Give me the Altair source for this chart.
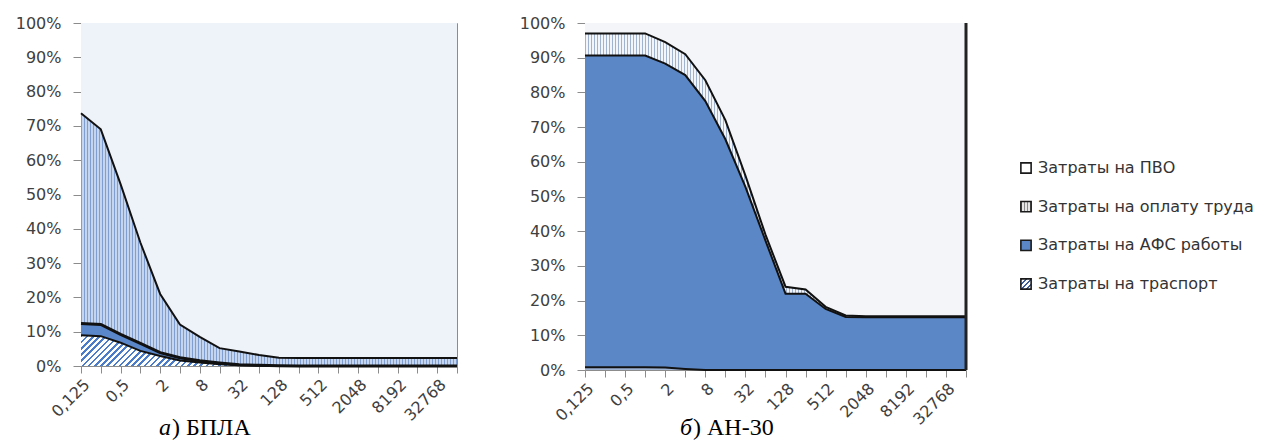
import altair as alt
import pandas as pd

# ---------------- data ----------------
categories = ["0,125", "0,25", "0,5", "1", "2", "4", "8", "16", "32", "64", "128",
              "256", "512", "1024", "2048", "4096", "8192", "16384", "32768", "65536"]

legend_names = ["Затраты на ПВО", "Затраты на оплату труда",
                "Затраты на АФС работы", "Затраты на траспорт"]
stack_order = ["Затраты на траспорт", "Затраты на АФС работы",
               "Затраты на оплату труда", "Затраты на ПВО"]

# panel а) БПЛА – shares, %
bpla_transport = [9.0, 8.7, 6.8, 4.4, 2.9, 1.6, 1.0, 0.5, 0.2, 0.1, 0, 0, 0, 0, 0, 0, 0, 0, 0, 0]
bpla_afs = [3.4, 3.4, 2.4, 2.2, 1.0, 0.8, 0.5, 0.4, 0.2, 0.1, 0.1, 0, 0, 0, 0, 0, 0, 0, 0, 0]
bpla_pay = [61.3, 56.9, 43.8, 29.4, 17.1, 9.7, 7.0, 4.3, 3.8, 3.0, 2.3, 2.3, 2.3, 2.3, 2.3,
            2.3, 2.3, 2.3, 2.3, 2.3]
bpla_pvo = [26.3, 31.0, 47.0, 64.0, 79.0, 87.9, 91.5, 94.8, 95.8, 96.8, 97.6, 97.7, 97.7,
            97.7, 97.7, 97.7, 97.7, 97.7, 97.7, 97.7]

# panel б) АН-30 – shares, %
an_transport = [0.8, 0.8, 0.8, 0.8, 0.7, 0.3, 0, 0, 0, 0, 0, 0, 0, 0, 0, 0, 0, 0, 0, 0]
an_afs = [89.8, 89.8, 89.8, 89.8, 87.6, 84.7, 77.5, 66.5, 52.8, 37.3, 22.0, 22.0, 17.6,
          15.3, 15.2, 15.2, 15.2, 15.2, 15.2, 15.2]
an_pay = [6.4, 6.4, 6.4, 6.4, 6.2, 6.0, 6.0, 5.5, 3.2, 1.7, 2.0, 1.2, 0.6, 0.4, 0.3, 0.3,
          0.3, 0.3, 0.3, 0.3]
an_pvo = [3.0, 3.0, 3.0, 3.0, 5.5, 9.0, 16.5, 28.0, 44.0, 61.0, 76.0, 76.8, 81.8, 84.3,
          84.5, 84.5, 84.5, 84.5, 84.5, 84.5]

captions = [("а", ") БПЛА"), ("б", ") АН-30")]
y_ticks = [0, 10, 20, 30, 40, 50, 60, 70, 80, 90, 100]

# ---------------- helpers ----------------
LABEL_FONT = "DejaVu Sans"
AXIS_GREY = "#8c8c8c"


def build_df(series):
    rows = []
    for i, cat in enumerate(categories):
        lo = 0.0
        for s in stack_order:
            v = series[s][i]
            rows.append({"cat": cat, "series": s, "lo": lo, "hi": lo + v})
            lo += v
    return pd.DataFrame(rows)


def stripe_stops(span_px, period, line_px, c_line, c_bg):
    stops = []
    x = 0.0
    while x < span_px:
        a = round(x / span_px, 6)
        b = round(min((x + line_px) / span_px, 1.0), 6)
        c = round(min((x + period) / span_px, 1.0), 6)
        stops += [{"offset": a, "color": c_line}, {"offset": b, "color": c_line},
                  {"offset": b, "color": c_bg}, {"offset": c, "color": c_bg}]
        x += period
    return stops


def vstripes(w, period, line_px, c_line, c_bg):
    return {"gradient": "linear", "x1": 0, "y1": 0, "x2": 1, "y2": 0,
            "stops": stripe_stops(w, period, line_px, c_line, c_bg)}


def hatch(w, h, period, line_px, c_line, c_bg):
    b = h / w
    span = w * (1 + b * b)
    return {"gradient": "linear", "x1": 0, "y1": 0, "x2": 1, "y2": round(b, 6),
            "stops": stripe_stops(span, period, line_px, c_line, c_bg)}


def x_enc():
    arr = "[" + ",".join("'" + c + "'" for c in categories) + "]"
    return alt.X("cat:O", sort=categories,
                 scale=alt.Scale(type="point", padding=0, domain=categories),
                 axis=alt.Axis(title=None, labelAngle=-45, labelAlign="right",
                               labelBaseline="top", labelOverlap=False,
                               labelExpr=f"indexof({arr}, datum.value) % 2 == 0 ? datum.value : ''",
                               labelFont=LABEL_FONT, labelFontSize=16, labelColor="#404040",
                               labelPadding=3, tickSize=7, tickColor=AXIS_GREY,
                               domainColor=AXIS_GREY, grid=False))


def y_enc(field):
    return alt.Y(f"{field}:Q", scale=alt.Scale(domain=[0, 100], nice=False),
                 axis=alt.Axis(title=None, values=y_ticks, labelExpr="datum.value + '%'",
                               labelFont=LABEL_FONT, labelFontSize=16, labelColor="#404040",
                               labelPadding=12, tickSize=8, tickColor=AXIS_GREY,
                               domainColor=AXIS_GREY, grid=False))


def panel(series, fills, line_widths, caption, cap_x, cap_y, right_rule):
    df = build_df(series)
    layers = []
    for s in stack_order:
        layers.append(
            alt.Chart(df).transform_filter(alt.datum.series == s)
            .mark_area(fill=fills[s], interpolate="linear", strokeWidth=0)
            .encode(x=x_enc(), y=y_enc("lo"), y2="hi:Q")
        )
    for s in stack_order[:3]:
        layers.append(
            alt.Chart(df).transform_filter(alt.datum.series == s)
            .mark_line(color="#111111", strokeWidth=line_widths[s], interpolate="linear")
            .encode(x=x_enc(), y=y_enc("hi"))
        )
    if right_rule:
        edge = pd.DataFrame({"cat": [categories[-1]], "lo": [0], "hi": [100]})
        layers.append(alt.Chart(edge).mark_rule(color="#222222", strokeWidth=3)
                      .encode(x=x_enc(), y=y_enc("lo"), y2="hi:Q"))
    cap_df = pd.DataFrame({"a": [caption[0]], "b": [caption[1]]})
    layers.append(alt.Chart(cap_df).mark_text(font="Liberation Serif", fontSize=24,
                                             fontStyle="italic", align="right",
                                             baseline="alphabetic", color="#000000")
                  .encode(text="a:N", x=alt.value(cap_x), y=alt.value(cap_y)))
    layers.append(alt.Chart(cap_df).mark_text(font="Liberation Serif", fontSize=24,
                                             align="left", baseline="alphabetic",
                                             color="#000000")
                  .encode(text="b:N", x=alt.value(cap_x + 1), y=alt.value(cap_y)))
    return layers


# ---------------- panel a ----------------
WL, HL = 376, 343
bpla_series = {"Затраты на траспорт": bpla_transport, "Затраты на АФС работы": bpla_afs,
               "Затраты на оплату труда": bpla_pay, "Затраты на ПВО": bpla_pvo}
fills_l = {
    "Затраты на ПВО": "#eef3fa",
    "Затраты на оплату труда": vstripes(WL, 3, 1, "#7f9fd3", "#c4d5ed"),
    "Затраты на АФС работы": "#5a87c9",
    "Затраты на траспорт": hatch(WL, max(bpla_transport) * HL / 100, 6.2, 2.6, "#4b7cc9", "#ffffff"),
}
lw_l = {"Затраты на траспорт": 2, "Затраты на АФС работы": 3, "Затраты на оплату труда": 2}
left = alt.layer(*panel(bpla_series, fills_l, lw_l, captions[0], 90, 412, False)).properties(
    width=WL, height=HL, view=alt.ViewBackground(stroke="#8c8c8c", strokeWidth=1))

# ---------------- panel b ----------------
WR, HR = 381, 347
an_series = {"Затраты на траспорт": an_transport, "Затраты на АФС работы": an_afs,
             "Затраты на оплату труда": an_pay, "Затраты на ПВО": an_pvo}
fills_r = {
    "Затраты на ПВО": "#f3f5f8",
    "Затраты на оплату труда": vstripes(WR, 3, 1, "#9fb2cf", "#f2f5fa"),
    "Затраты на АФС работы": "#5b87c6",
    "Затраты на траспорт": "#9fb3d3",
}
lw_r = {"Затраты на траспорт": 2, "Затраты на АФС работы": 2, "Затраты на оплату труда": 2}
right_main = alt.layer(*panel(an_series, fills_r, lw_r, captions[1], 107, 412, True))

# legend (drawn to the right of panel b)
leg_df = pd.DataFrame({"name": legend_names})
leg_y = alt.Y("name:N", sort=legend_names,
              scale=alt.Scale(type="point", padding=0, domain=legend_names, range=[145, 261]),
              axis=None)
leg_fills = {
    "Затраты на ПВО": "#ffffff",
    "Затраты на оплату труда": vstripes(10.5, 3, 1, "#8a8a8a", "#e6e6e6"),
    "Затраты на АФС работы": "#5b87c6",
    "Затраты на траспорт": hatch(10.5, 10.5, 5, 2, "#3d5f9e", "#ffffff"),
}
leg_layers = []
for n in legend_names:
    leg_layers.append(alt.Chart(leg_df).transform_filter(alt.datum.name == n)
                      .mark_square(size=105, fill=leg_fills[n], stroke="#1a1a1a",
                                   strokeWidth=1.6, opacity=1)
                      .encode(y=leg_y, x=alt.value(441)))
leg_layers.append(alt.Chart(leg_df).mark_text(font=LABEL_FONT, fontSize=16, align="left",
                                              baseline="middle", color="#333333")
                  .encode(y=leg_y, x=alt.value(453), text="name:N"))
legend = alt.layer(*leg_layers)

right = alt.layer(right_main, legend).resolve_scale(y="independent").properties(
    width=WR, height=HR, view=alt.ViewBackground(stroke="#dddddd", strokeWidth=1))

chart = alt.hconcat(left, right, spacing=49).properties(
    padding={"left": 6, "top": 6, "right": 0, "bottom": 0}
).configure_view(stroke="#8c8c8c")

chart.save("out.html", embed_options={"renderer": "svg", "actions": False})
